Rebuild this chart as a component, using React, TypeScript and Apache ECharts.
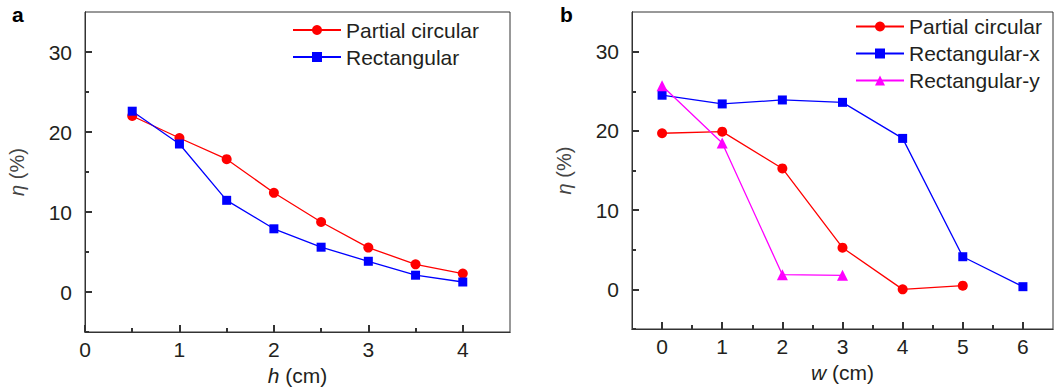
import React, { useEffect, useRef } from "react";
import * as echarts from "echarts";

// Panel a: efficiency vs height h
const hValues = [0.5, 1, 1.5, 2, 2.5, 3, 3.5, 4];
const aPartialCircular = [22.0, 19.25, 16.6, 12.4, 8.75, 5.55, 3.46, 2.3];
const aRectangular = [22.6, 18.5, 11.46, 7.9, 5.6, 3.84, 2.1, 1.25];

// Panel b: efficiency vs width w
const wPartial = [0, 1, 2, 3, 4, 5];
const bPartialCircular = [19.7, 19.9, 15.26, 5.26, 0.0, 0.47];
const wRectX = [0, 1, 2, 3, 4, 5, 6];
const bRectangularX = [24.5, 23.4, 23.9, 23.6, 19.05, 4.12, 0.34];
const wRectY = [0, 1, 2, 3];
const bRectangularY = [25.7, 18.46, 1.85, 1.77];

// Tick values
const yMajorTicks = [0, 10, 20, 30];
const yMinorTicks = [-5, 5, 15, 25];
const xMajorTicksA = [0, 1, 2, 3, 4];
const xMinorTicksA = [0.5, 1.5, 2.5, 3.5];
const xMajorTicksB = [0, 1, 2, 3, 4, 5, 6];
const xMinorTicksB = [0.5, 1.5, 2.5, 3.5, 4.5, 5.5];

const FONT = "'Liberation Sans', Arial, Helvetica, sans-serif";
const TEXT = "#231f20";
const AXIS = "#333333";

const pairs = (xs: number[], ys: number[]) => xs.map((x, i) => [x, ys[i]]);

function majorAxis(grid: number, min: number, max: number, ticks: number[], isX: boolean, name: string) {
  const nameSize = isX ? 21 : 20;
  const nameColor = isX ? TEXT : "#444";
  return {
    type: "value",
    gridIndex: grid,
    min,
    max,
    position: isX ? "bottom" : "left",
    splitLine: { show: false },
    axisLine: { show: true, onZero: false, lineStyle: { color: AXIS, width: 1 } },
    axisTick: { show: true, inside: true, length: 7, customValues: ticks, lineStyle: { color: AXIS, width: 2 } },
    axisLabel: {
      show: true,
      customValues: ticks,
      margin: isX ? 7 : 13,
      fontSize: 21,
      color: TEXT,
      fontFamily: FONT,
    },
    name,
    nameLocation: "middle",
    nameGap: isX ? 32 : 58,
    nameTextStyle: {
      fontSize: nameSize,
      color: nameColor,
      fontFamily: FONT,
      rich: {
        i: { fontStyle: "italic", fontSize: nameSize, fontFamily: FONT, color: nameColor },
      },
    },
  };
}

function minorAxis(grid: number, min: number, max: number, ticks: number[], isX: boolean) {
  return {
    type: "value",
    gridIndex: grid,
    min,
    max,
    position: isX ? "bottom" : "left",
    splitLine: { show: false },
    axisLine: { show: true, onZero: false, lineStyle: { color: AXIS, width: 1 } },
    axisTick: { show: true, inside: true, length: 4, customValues: ticks, lineStyle: { color: AXIS, width: 2 } },
    axisLabel: { show: false },
  };
}

export default function App() {
  const ref = useRef<HTMLDivElement>(null);
  useEffect(() => {
    if (!ref.current) return;
    const chart = echarts.init(ref.current, null, { renderer: "svg" });
    const legendCommon = {
      orient: "vertical",
      padding: 0,
      itemWidth: 48,
      itemHeight: 12.5,
      itemGap: 6,
      textStyle: { fontSize: 21, color: TEXT, fontFamily: FONT, lineHeight: 21 },
    };
    chart.setOption({
      animation: false,
      backgroundColor: "#ffffff",
      grid: [
        { left: 85, top: 12, width: 425, height: 320, show: true, borderColor: AXIS, borderWidth: 1 },
        { left: 632, top: 12, width: 421, height: 317, show: true, borderColor: AXIS, borderWidth: 1 },
      ],
      xAxis: [
        majorAxis(0, 0, 4.5, xMajorTicksA, true, "{i|h} (cm)"),
        minorAxis(0, 0, 4.5, xMinorTicksA, true),
        majorAxis(1, -0.5, 6.5, xMajorTicksB, true, "{i|w} (cm)"),
        minorAxis(1, -0.5, 6.5, xMinorTicksB, true),
      ],
      yAxis: [
        majorAxis(0, -5, 35, yMajorTicks, false, "{i|η} (%)"),
        minorAxis(0, -5, 35, yMinorTicks, false),
        majorAxis(1, -5, 35, yMajorTicks, false, "{i|η} (%)"),
        minorAxis(1, -5, 35, yMinorTicks, false),
      ],
      legend: [
        { ...legendCommon, left: 292, top: 19.5, data: ["Partial circular", "Rectangular"] },
        { ...legendCommon, left: 855, top: 16, data: ["Partial circular", "Rectangular-x", "Rectangular-y"] },
      ],
      graphic: [
        { type: "text", left: 12, top: 4, style: { text: "a", fontSize: 21, fontWeight: "bold", fill: "#000", fontFamily: FONT } },
        { type: "text", left: 560, top: 4, style: { text: "b", fontSize: 21, fontWeight: "bold", fill: "#000", fontFamily: FONT } },
      ],
      series: [
        { name: "Partial circular", type: "line", xAxisIndex: 0, yAxisIndex: 0, data: pairs(hValues, aPartialCircular), symbol: "circle", symbolSize: 10, color: "#ff0000", lineStyle: { width: 1.3, color: "#ff0000" } },
        { name: "Rectangular", type: "line", xAxisIndex: 0, yAxisIndex: 0, data: pairs(hValues, aRectangular), symbol: "rect", symbolSize: 9, color: "#0000ff", lineStyle: { width: 1.3, color: "#0000ff" } },
        { name: "Partial circular", type: "line", xAxisIndex: 2, yAxisIndex: 2, data: pairs(wPartial, bPartialCircular), symbol: "circle", symbolSize: 10, color: "#ff0000", lineStyle: { width: 1.3, color: "#ff0000" } },
        { name: "Rectangular-x", type: "line", xAxisIndex: 2, yAxisIndex: 2, data: pairs(wRectX, bRectangularX), symbol: "rect", symbolSize: 9, color: "#0000ff", lineStyle: { width: 1.3, color: "#0000ff" } },
        { name: "Rectangular-y", type: "line", xAxisIndex: 2, yAxisIndex: 2, data: pairs(wRectY, bRectangularY), symbol: "triangle", symbolSize: 11, color: "#ff00ff", lineStyle: { width: 1.3, color: "#ff00ff" } },
      ],
    });
    return () => chart.dispose();
  }, []);
  return <div ref={ref} style={{ position: "fixed", left: 0, top: 0, width: 1055, height: 391, background: "#fff" }} />;
}
